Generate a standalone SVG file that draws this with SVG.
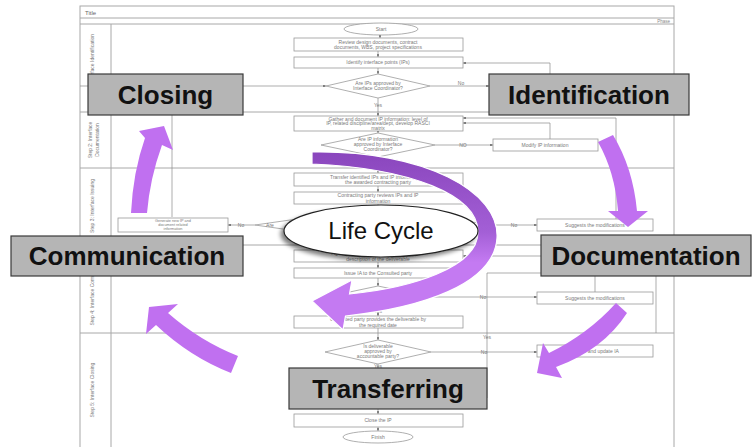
<svg xmlns="http://www.w3.org/2000/svg" width="754" height="447" viewBox="0 0 754 447">
<defs>
<style>
.fr{fill:none;stroke:#a8a8a8;stroke-width:1}
.bx{fill:#fff;stroke:#9a9a9a;stroke-width:0.8}
.ln{fill:none;stroke:#8a8a8a;stroke-width:0.7}
.ft{font-family:"Liberation Sans",Arial,sans-serif;font-size:5px;fill:#7a7a7a;text-anchor:middle}
.fs{font-family:"Liberation Sans",Arial,sans-serif;font-size:3.8px;fill:#7a7a7a;text-anchor:middle}
.lt{font-family:"Liberation Sans",Arial,sans-serif;font-size:5px;fill:#777;text-anchor:middle}
.pa{fill:#c070f0}
.lb rect{fill:#b5b5b5;stroke:#3a3a3a;stroke-width:1.2}
.lb text{font-family:"Liberation Sans",Arial,sans-serif;font-size:26px;font-weight:bold;fill:#111;text-anchor:middle}
</style>
<marker id="ah" viewBox="0 0 6 6" refX="6" refY="3" markerWidth="4" markerHeight="4" orient="auto">
<path d="M0,0 L6,3 L0,6 Z" fill="#666"/>
</marker>
<linearGradient id="bg" x1="0" y1="0" x2="0" y2="1">
<stop offset="0" stop-color="#8a46bd"/>
<stop offset="0.45" stop-color="#a35fd6"/>
<stop offset="0.62" stop-color="#c47af2"/>
<stop offset="1" stop-color="#c47af2"/>
</linearGradient>
<filter id="sh" x="-20%" y="-30%" width="140%" height="160%">
<feGaussianBlur in="SourceAlpha" stdDeviation="2"/>
<feOffset dx="-3" dy="3" result="b"/>
<feComponentTransfer><feFuncA type="linear" slope="0.5"/></feComponentTransfer>
<feMerge><feMergeNode/><feMergeNode in="SourceGraphic"/></feMerge>
</filter>
</defs>
<rect width="754" height="447" fill="#fff"/>

<g id="frame">
<rect class="fr" x="80" y="6" width="594" height="445"/>
<line class="fr" x1="80" y1="18" x2="674" y2="18"/>
<line class="fr" x1="80" y1="24" x2="674" y2="24"/>
<line class="fr" x1="111" y1="24" x2="111" y2="447"/>
<line class="fr" x1="80" y1="112" x2="674" y2="112"/>
<line class="fr" x1="80" y1="168" x2="674" y2="168"/>
<line class="fr" x1="80" y1="245" x2="674" y2="245"/>
<line class="fr" x1="80" y1="333" x2="674" y2="333"/>
<text x="85" y="14.5" style="font-family:'Liberation Sans',Arial,sans-serif;font-size:6px;fill:#666">Title</text>
<text x="670" y="22.5" style="font-family:'Liberation Sans',Arial,sans-serif;font-size:4.5px;fill:#888;text-anchor:end">Phase</text>
<text class="lt" transform="translate(94,67) rotate(-90)">Step 1: Interface Identification</text>
<text class="lt" transform="translate(92,140) rotate(-90)">Step 2: Interface</text>
<text class="lt" transform="translate(99,140) rotate(-90)">Documentation</text>
<text class="lt" transform="translate(94,206) rotate(-90)">Step 3: Interface Issuing</text>
<text class="lt" transform="translate(94,289) rotate(-90)">Step 4: Interface Communication</text>
<text class="lt" transform="translate(94,390) rotate(-90)">Step 5: Interface Closing</text>
</g>

<g id="connectors">
<line class="ln" x1="380" y1="35" x2="380" y2="38" marker-end="url(#ah)"/>
<line class="ln" x1="378" y1="51" x2="378" y2="57" marker-end="url(#ah)"/>
<line class="ln" x1="378" y1="68" x2="378" y2="74" marker-end="url(#ah)"/>
<line class="ln" x1="430" y1="86" x2="489" y2="86" marker-end="url(#ah)"/>
<polyline class="ln" points="550,75 550,63 463,63" marker-end="url(#ah)"/>
<polyline class="ln" points="172,217 172,86 80,86"/>
<line class="ln" x1="172" y1="86" x2="326" y2="86" marker-end="url(#ah)"/>
<line class="ln" x1="378" y1="98" x2="378" y2="116" marker-end="url(#ah)"/>
<line class="ln" x1="378" y1="131" x2="378" y2="133" marker-end="url(#ah)"/>
<line class="ln" x1="435" y1="145" x2="493" y2="145" marker-end="url(#ah)"/>
<polyline class="ln" points="550,139 550,123 463,123" marker-end="url(#ah)"/>
<polyline class="ln" points="616,219 616,118 463,118" marker-end="url(#ah)"/>
<line class="ln" x1="378" y1="157" x2="378" y2="173" marker-end="url(#ah)"/>
<line class="ln" x1="378" y1="186" x2="378" y2="192" marker-end="url(#ah)"/>
<line class="ln" x1="378" y1="204" x2="378" y2="208" marker-end="url(#ah)"/>
<line class="ln" x1="255" y1="225" x2="228" y2="225" marker-end="url(#ah)"/>
<line class="ln" x1="493" y1="225" x2="537" y2="225" marker-end="url(#ah)"/>
<line class="ln" x1="378" y1="242" x2="378" y2="250" marker-end="url(#ah)"/>
<polyline class="ln" points="595,292 595,256 463,256" marker-end="url(#ah)"/>
<line class="ln" x1="378" y1="262" x2="378" y2="268" marker-end="url(#ah)"/>
<line class="ln" x1="378" y1="278" x2="378" y2="286" marker-end="url(#ah)"/>
<line class="ln" x1="430" y1="297" x2="537" y2="297" marker-end="url(#ah)"/>
<line class="ln" x1="378" y1="308" x2="378" y2="316" marker-end="url(#ah)"/>
<line class="ln" x1="378" y1="328" x2="378" y2="340" marker-end="url(#ah)"/>
<line class="ln" x1="431" y1="352" x2="537" y2="352" marker-end="url(#ah)"/>
<line class="ln" x1="378" y1="364" x2="378" y2="368"/>
<polyline class="ln" points="541,273 487,273 487,398"/>
<line class="ln" x1="656" y1="276" x2="656" y2="333"/>
<line class="ln" x1="378" y1="409" x2="378" y2="414" marker-end="url(#ah)"/>
<line class="ln" x1="378" y1="427" x2="378" y2="431" marker-end="url(#ah)"/>
<text class="ft" x="461" y="84.5">No</text>
<text class="ft" x="378" y="107">Yes</text>
<text class="ft" x="463" y="147">NO</text>
<text class="ft" x="241" y="226.5">No</text>
<text class="ft" x="514" y="226.5">No</text>
<text class="ft" x="483" y="298.5">No</text>
<text class="ft" x="378" y="313">Yes</text>
<text class="ft" x="487" y="339">Yes</text>
<text class="ft" x="484" y="353.5">No</text>
<text class="ft" x="378" y="368">Yes</text>
</g>

<g id="flow-nodes">
<g id="start"><ellipse class="bx" cx="381" cy="29" rx="37" ry="6"/><text class="ft" x="381" y="31">Start</text></g>
<g id="review"><rect class="bx" x="294" y="38" width="169" height="13"/><text class="ft" x="378" y="43.5">Review design documents, contract</text><text class="ft" x="378" y="49">documents, WBS, project specifications</text></g>
<g id="identify"><rect class="bx" x="294" y="57" width="169" height="11"/><text class="ft" x="378" y="64">Identify interface points (IPs)</text></g>
<g id="d1"><polygon class="bx" points="326,86 378,74 430,86 378,98"/><text class="ft" x="378" y="85">Are IPs approved by</text><text class="ft" x="378" y="90">Interface Coordinator?</text></g>
<g id="gather"><rect class="bx" x="294" y="116" width="169" height="15"/><text class="ft" x="378" y="120.5">Gather and document IP information: level of</text><text class="ft" x="378" y="125">IP, related discipline/area/dept, develop RASCI</text><text class="ft" x="378" y="129.5">matrix</text></g>
<g id="d2"><polygon class="bx" points="321,145 378,133 435,145 378,157"/><text class="ft" x="378" y="141">Are IP information</text><text class="ft" x="378" y="146">approved by Interface</text><text class="ft" x="378" y="151">Coordinator?</text></g>
<g id="modify"><rect class="bx" x="493" y="139" width="105" height="12"/><text class="ft" x="545" y="146.5">Modify IP information</text></g>
<g id="transfer"><rect class="bx" x="294" y="173" width="169" height="13"/><text class="ft" x="378" y="178.5">Transfer identified IPs and IP information to</text><text class="ft" x="378" y="184">the awarded contracting party</text></g>
<g id="review2"><rect class="bx" x="294" y="192" width="169" height="12"/><text class="ft" x="378" y="197">Contracting party reviews IPs and IP</text><text class="ft" x="378" y="202.5">information</text></g>
<g id="d3"><polygon class="bx" points="255,225 374,208 493,225 374,242"/><text class="ft" x="270" y="227">Are</text></g>
<g id="generate"><rect class="bx" x="118" y="218" width="110" height="14"/><text class="fs" x="173" y="221.8">Generate new IP and</text><text class="fs" x="173" y="225.9">document related</text><text class="fs" x="173" y="230">information</text></g>
<g id="suggest1"><rect class="bx" x="537" y="219" width="116" height="12"/><text class="ft" x="595" y="226.5">Suggests the modifications</text></g>
<g id="agree"><rect class="bx" x="294" y="250" width="169" height="12"/><text class="ft" x="378" y="255">Agreement between parties on dates, and</text><text class="ft" x="378" y="260.5">description of the deliverable</text></g>
<g id="issue"><rect class="bx" x="294" y="268" width="169" height="10"/><text class="ft" x="378" y="274.5">Issue IA to the Consulted party</text></g>
<g id="d4"><polygon class="bx" points="326,297 378,286 430,297 378,308"/></g>
<g id="suggest2"><rect class="bx" x="537" y="292" width="116" height="12"/><text class="ft" x="595" y="299.5">Suggests the modifications</text></g>
<g id="consulted"><rect class="bx" x="294" y="316" width="169" height="12"/><text class="ft" x="378" y="321">Consulted party provides the deliverable by</text><text class="ft" x="378" y="326.5">the required date</text></g>
<g id="d5"><polygon class="bx" points="325,352 378,340 431,352 378,364"/><text class="ft" x="378" y="348">Is deliverable</text><text class="ft" x="378" y="353">approved by</text><text class="ft" x="378" y="358">accountable party?</text></g>
<g id="update"><rect class="bx" x="537" y="345" width="116" height="12"/><text class="ft" x="595" y="352.5">Revise and update IA</text></g>
<g id="close"><rect class="bx" x="294" y="414" width="169" height="13"/><text class="ft" x="378" y="422">Close the IP</text></g>
<g id="finish"><ellipse class="bx" cx="378" cy="437" rx="35" ry="6"/><text class="ft" x="378" y="439">Finish</text></g>
</g>

<g id="cycle-arrows">
<path class="pa" d="M131,213 Q133,172 145,138 L139,131 L164,126 L173,150 L162,145 Q150,178 147,213 Z"/>
<path class="pa" d="M598,142 L613,135 Q633,168 637,211 L648,211 L628,227 L608,211 L618,211 Q615,172 598,142 Z"/>
<path class="pa" d="M616,303 L627,313 Q603,350 556,367 L562,378 L537,373 L543,343 L549,353 Q588,334 616,303 Z"/>
<path class="pa" d="M238,356 L231,373 Q190,357 156,325 L146,334 L149,307 L178,304 L168,313 Q200,341 238,356 Z"/>
<path fill="url(#bg)" stroke="#fff" stroke-width="1.2" d="M312,152 C425,150 500,192 497,238 C494,285 420,308 345.5,316 L343,330 L312,301 L352,280 L349.5,294 C410,288 478,268 478,232 C478,195 410,168 312,164 Z"/>
</g>

<g id="lifecycle">
<ellipse cx="381" cy="231" rx="97" ry="26" fill="#fff" stroke="#222" stroke-width="1.2" filter="url(#sh)"/>
<text x="381" y="239" style="font-family:'Liberation Sans',Arial,sans-serif;font-size:24px;fill:#111;text-anchor:middle">Life Cycle</text>
</g>

<g id="closing" class="lb"><rect x="88" y="74" width="155" height="41"/><text x="165.5" y="104">Closing</text></g>
<g id="identification" class="lb"><rect x="489" y="74" width="200" height="41"/><text x="589" y="104">Identification</text></g>
<g id="communication" class="lb"><rect x="11" y="236" width="232" height="40"/><text x="127" y="265">Communication</text></g>
<g id="documentation" class="lb"><rect x="541" y="235" width="210" height="41"/><text x="646" y="265">Documentation</text></g>
<g id="transferring" class="lb"><rect x="289" y="368" width="198" height="41"/><text x="388" y="398">Transferring</text></g>
</svg>
